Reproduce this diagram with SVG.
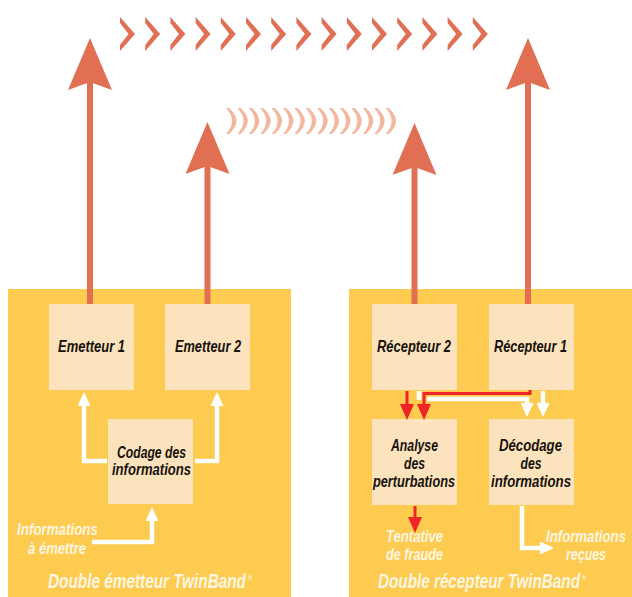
<svg xmlns="http://www.w3.org/2000/svg" xmlns:xlink="http://www.w3.org/1999/xlink" width="632" height="597" viewBox="0 0 632 597">
<style>
.panel{fill:#fdcb4f}
.box{fill:#fce3bd}
text{font-family:"Liberation Sans Narrow","Liberation Sans",Arial,sans-serif;font-style:italic;text-anchor:middle}
.n{font-size:16.5px;font-weight:700;fill:#16120c}
.l{font-size:17px;font-weight:700;fill:#fff6e2}
.t{font-size:21px;font-weight:700;fill:#fff6e2}
.r{font-size:6px;font-weight:700;fill:#fff6e2}
.big{fill:none;stroke:#e06f53;stroke-width:6}
.w{fill:none;stroke:#fff;stroke-width:4.500}
.wh{fill:none;stroke:#fff;stroke-width:4.500;marker-end:url(#hw)}
.rh{fill:none;stroke:#ee2427;stroke-width:3;marker-end:url(#hr)}
.chev{fill:#e06f53}
.arc{fill:#f2b89e}
</style>
<defs>
<marker id="hb" viewBox="0 0 52 44" refX="8" refY="22" markerWidth="52" markerHeight="44" orient="auto" markerUnits="userSpaceOnUse"><path d="M0 0L52 22L0 44L8 22z" fill="#e06f53"/></marker>
<marker id="hw" viewBox="0 0 14 13" refX="1" refY="6.5" markerWidth="14" markerHeight="13" orient="auto" markerUnits="userSpaceOnUse"><path d="M0 0L14 6.5L0 13z" fill="#fff"/></marker>
<marker id="hr" viewBox="0 0 16 14" refX="1" refY="7" markerWidth="16" markerHeight="14" orient="auto" markerUnits="userSpaceOnUse"><path d="M0 0L16 7L0 14z" fill="#ee2427"/></marker>
<path id="c" class="chev" d="M120 23L120 17L135 34L120 51L120 45L128.500 34z"/>
<path id="a" class="arc" d="M226 108Q238 121 226 134L229 134Q236 128 236.500 121Q236 114 229 108z"/>
</defs>
<rect width="632" height="597" fill="#fff"/>
<g id="panel-emetteur"><rect class="panel" x="8" y="289" width="283" height="308"/><text class="t" transform="translate(147 588) scale(.74 1)" textLength="267.500" lengthAdjust="spacingAndGlyphs">Double émetteur TwinBand</text><text class="r" x="250" y="580">®</text></g>
<g id="panel-recepteur"><rect class="panel" x="349" y="289" width="283" height="308"/><text class="t" transform="translate(479 588) scale(.7 1)" textLength="288.500" lengthAdjust="spacingAndGlyphs">Double récepteur TwinBand</text><text class="r" x="584" y="580">®</text></g>
<g id="signal-chevrons">
<use xlink:href="#c"/><use xlink:href="#c" x="25.2"/><use xlink:href="#c" x="50.4"/><use xlink:href="#c" x="75.6"/><use xlink:href="#c" x="100.8"/><use xlink:href="#c" x="126"/><use xlink:href="#c" x="151.2"/><use xlink:href="#c" x="176.4"/><use xlink:href="#c" x="201.6"/><use xlink:href="#c" x="226.8"/><use xlink:href="#c" x="252"/><use xlink:href="#c" x="277.2"/><use xlink:href="#c" x="302.4"/><use xlink:href="#c" x="327.6"/><use xlink:href="#c" x="352.8"/>
</g>
<g id="signal-arcs">
<use xlink:href="#a"/><use xlink:href="#a" x="11.4"/><use xlink:href="#a" x="22.8"/><use xlink:href="#a" x="34.2"/><use xlink:href="#a" x="45.6"/><use xlink:href="#a" x="57"/><use xlink:href="#a" x="68.4"/><use xlink:href="#a" x="79.8"/><use xlink:href="#a" x="91.2"/><use xlink:href="#a" x="102.6"/><use xlink:href="#a" x="114"/><use xlink:href="#a" x="125.4"/><use xlink:href="#a" x="136.8"/><use xlink:href="#a" x="148.2"/><use xlink:href="#a" x="159.6"/>
</g>
<g id="emetteur-1"><rect class="box" x="49" y="304" width="85" height="86"/><text class="n" x="91.5" y="352" textLength="67" lengthAdjust="spacingAndGlyphs">Emetteur 1</text></g>
<g id="emetteur-2"><rect class="box" x="165" y="304" width="85" height="86"/><text class="n" x="208" y="352" textLength="66" lengthAdjust="spacingAndGlyphs">Emetteur 2</text></g>
<g id="codage"><rect class="box" x="108" y="419" width="85" height="85"/><text class="n" x="151.5" y="458" textLength="69" lengthAdjust="spacingAndGlyphs">Codage des</text><text class="n" x="151.5" y="475" textLength="79" lengthAdjust="spacingAndGlyphs">informations</text></g>
<g id="recepteur-2"><rect class="box" x="372" y="304" width="85" height="86"/><text class="n" x="414" y="352" textLength="74" lengthAdjust="spacingAndGlyphs">Récepteur 2</text></g>
<g id="recepteur-1"><rect class="box" x="489" y="304" width="85" height="86"/><text class="n" x="530.5" y="352" textLength="73" lengthAdjust="spacingAndGlyphs">Récepteur 1</text></g>
<g id="analyse"><rect class="box" x="372" y="419" width="85" height="86"/><text class="n" x="414.5" y="451" textLength="47" lengthAdjust="spacingAndGlyphs">Analyse</text><text class="n" x="414.5" y="469" textLength="21" lengthAdjust="spacingAndGlyphs">des</text><text class="n" x="414" y="487" textLength="82" lengthAdjust="spacingAndGlyphs">perturbations</text></g>
<g id="decodage"><rect class="box" x="489" y="419" width="85" height="86"/><text class="n" x="530.5" y="451" textLength="63" lengthAdjust="spacingAndGlyphs">Décodage</text><text class="n" x="531" y="469" textLength="21" lengthAdjust="spacingAndGlyphs">des</text><text class="n" x="531" y="487" textLength="80" lengthAdjust="spacingAndGlyphs">informations</text></g>
<g id="labels">
<text class="l" transform="translate(57.5 535) scale(.8 1)" textLength="101" lengthAdjust="spacingAndGlyphs">Informations</text><text class="l" transform="translate(57 554) scale(.8 1)" textLength="72.500" lengthAdjust="spacingAndGlyphs">à émettre</text>
<text class="l" transform="translate(414.5 542) scale(.8 1)" textLength="71" lengthAdjust="spacingAndGlyphs">Tentative</text><text class="l" transform="translate(414.5 560) scale(.8 1)" textLength="71" lengthAdjust="spacingAndGlyphs">de fraude</text>
<text class="l" transform="translate(586 542) scale(.8 1)" textLength="100" lengthAdjust="spacingAndGlyphs">Informations</text><text class="l" transform="translate(586 560) scale(.8 1)" textLength="50" lengthAdjust="spacingAndGlyphs">reçues</text>
</g>
<g id="connectors">
<path class="big" d="M90 304V82" marker-end="url(#hb)"/>
<path class="big" d="M207.500 304V166" marker-end="url(#hb)"/>
<path class="big" d="M414.500 304V167" marker-end="url(#hb)"/>
<path class="big" d="M528 304V82" marker-end="url(#hb)"/>
<path class="wh" d="M107 461H84V405"/>
<path class="wh" d="M195 461H217V405"/>
<path class="wh" d="M92 542H152V520"/>
<path class="w" d="M419 391V400"/>
<path class="wh" d="M427 399H527V404"/>
<path class="wh" d="M543 391V404"/>
<path class="wh" d="M522 506V548H541"/>
<path class="rh" d="M407 391V405"/>
<path class="rh" d="M530 390V393.500H424V405"/>
<path class="rh" d="M415 506V518"/>
</g>
</svg>
